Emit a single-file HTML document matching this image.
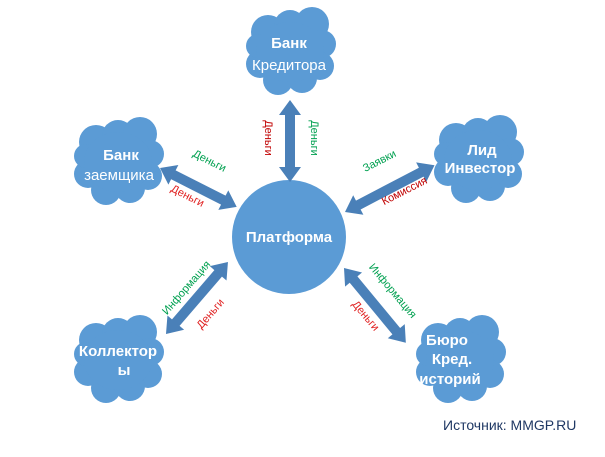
<!DOCTYPE html>
<html><head><meta charset="utf-8"><style>
html,body{margin:0;padding:0;background:#fff;}
svg{display:block;font-family:"Liberation Sans",sans-serif;}
</style></head><body>
<svg width="605" height="457" viewBox="0 0 605 457" xmlns="http://www.w3.org/2000/svg">
<defs>
<g id="cloud" fill="#5b9bd5">
<circle cx="-22" cy="-20" r="17"/>
<circle cx="0" cy="-26" r="16"/>
<circle cx="22" cy="-28" r="17"/>
<circle cx="32" cy="-8" r="14"/>
<circle cx="30" cy="14" r="14"/>
<circle cx="12" cy="26" r="15"/>
<circle cx="-12" cy="28" r="15"/>
<circle cx="-30" cy="12" r="14"/>
<circle cx="-32" cy="-6" r="12"/>
<ellipse cx="0" cy="0" rx="34" ry="30"/>
</g>
</defs>
<use href="#cloud" x="290" y="52"/>
<use href="#cloud" x="118" y="162"/>
<use href="#cloud" x="478" y="160"/>
<use href="#cloud" x="118" y="360"/>
<use href="#cloud" x="460" y="360"/>
<circle cx="289" cy="237" r="57" fill="#5b9bd5"/>
<g fill="#4a80b8">
<path transform="translate(290,100) rotate(90)" d="M0,0 L15,-11 L15,-5 L67,-5 L67,-11 L82,0 L67,11 L67,5 L15,5 L15,11 Z"/>
<path transform="translate(160,168) rotate(26.9)" d="M0,0 L15,-11 L15,-5 L71,-5 L71,-11 L86,0 L71,11 L71,5 L15,5 L15,11 Z"/>
<path transform="translate(345,212) rotate(-27.6)" d="M0,0 L15,-11 L15,-5 L86,-5 L86,-11 L101,0 L86,11 L86,5 L15,5 L15,11 Z"/>
<path transform="translate(166,334) rotate(-49.3)" d="M0,0 L15,-11 L15,-5 L80,-5 L80,-11 L95,0 L80,11 L80,5 L15,5 L15,11 Z"/>
<path transform="translate(344,268) rotate(50.4)" d="M0,0 L15,-11 L15,-5 L82,-5 L82,-11 L97,0 L82,11 L82,5 L15,5 L15,11 Z"/>
</g>
<g font-size="11" text-anchor="middle">
<text transform="translate(265,138) rotate(90)" fill="#c00000">Деньги</text>
<text transform="translate(311,138) rotate(90)" fill="#00a050">Деньги</text>
<text transform="translate(208,164) rotate(27)" fill="#00a050">Деньги</text>
<text transform="translate(186,199) rotate(27)" fill="#e02020">Деньги</text>
<text transform="translate(381,164) rotate(-27)" fill="#00a050">Заявки</text>
<text transform="translate(406,194) rotate(-27)" fill="#c00000">Комиссия</text>
<text transform="translate(189,290) rotate(-49)" fill="#00a050">Информация</text>
<text transform="translate(213,316) rotate(-49)" fill="#e02020">Деньги</text>
<text transform="translate(390,293) rotate(50)" fill="#00a050">Информация</text>
<text transform="translate(363,318) rotate(50)" fill="#e02020">Деньги</text>
</g>
<g fill="#fff" font-size="15" text-anchor="middle">
<text x="289" y="48" font-weight="bold">Банк</text>
<text x="289" y="70">Кредитора</text>
<text x="121" y="160" font-weight="bold">Банк</text>
<text x="119" y="180">заемщика</text>
<text x="482" y="155" font-weight="bold">Лид</text>
<text x="480" y="173" font-weight="bold">Инвестор</text>
<text x="118" y="356" font-weight="bold">Коллектор</text>
<text x="124" y="375" font-weight="bold">ы</text>
<text x="447" y="345" font-weight="bold">Бюро</text>
<text x="452" y="364" font-weight="bold">Кред.</text>
<text x="450" y="384" font-weight="bold">историй</text>
<text x="289" y="242" font-weight="bold">Платформа</text>
</g>
<text x="443" y="430" font-size="14" fill="#1f3864">Источник: MMGP.RU</text>
</svg>
</body></html>
